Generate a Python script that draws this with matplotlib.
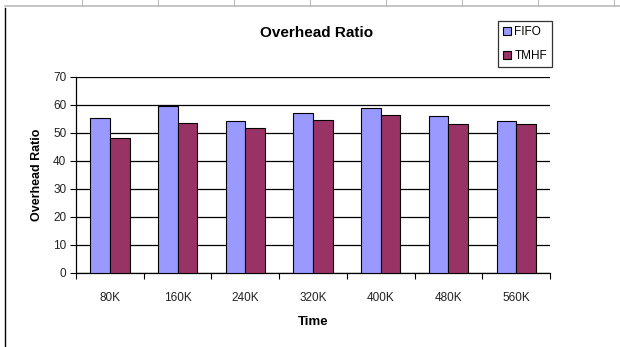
import numpy as np
import matplotlib.pyplot as plt
from matplotlib.lines import Line2D

plt.rcParams['font.family'] = ['Liberation Sans', 'DejaVu Sans']

times = ['80K', '160K', '240K', '320K', '400K', '480K', '560K']
fifo = [55.4, 59.8, 54.4, 57.3, 59.0, 55.9, 54.4]
tmhf = [48.2, 53.6, 51.9, 54.5, 56.6, 53.1, 53.1]

fig = plt.figure(figsize=(6.2, 3.47), dpi=100)
ax = fig.add_axes([0.1226, 0.2133, 0.7645, 0.5648])

x = np.arange(len(times))
w = 0.29
ax.bar(x - w / 2, fifo, w, color='#9999FF', edgecolor='black', linewidth=0.8,
       label='FIFO', zorder=3)
ax.bar(x + w / 2, tmhf, w, color='#993366', edgecolor='black', linewidth=0.8,
       label='TMHF', zorder=3)

ax.set_xlim(-0.5, len(times) - 0.5)
ax.set_ylim(0, 70)
ax.set_yticks(np.arange(0, 80, 10))
ax.set_xticks(x)
ax.set_xticklabels(times)
ax.set_xticks(np.arange(-0.5, len(times)), minor=True)
ax.tick_params(axis='x', which='major', length=0, pad=14, labelsize=8.5,
               labelcolor='#222222')
ax.tick_params(axis='x', which='minor', length=4, direction='out', width=0.8)
ax.tick_params(axis='y', length=4, direction='out', width=0.8, labelsize=8.5,
               labelcolor='#222222', pad=3)

ax.grid(axis='y', color='black', linewidth=0.9, zorder=0)
for s in ['top', 'right']:
    ax.spines[s].set_visible(False)
for s in ['left', 'bottom']:
    ax.spines[s].set_linewidth(0.9)

ax.set_xlabel('Time', fontsize=9.5, fontweight='bold', labelpad=8)
ax.set_ylabel('Overhead Ratio', fontsize=9, fontweight='bold', labelpad=7)
fig.text(0.51, 0.905, 'Overhead Ratio', ha='center', va='center',
         fontsize=11, fontweight='bold')

leg = fig.legend(loc='upper left', bbox_to_anchor=(0.803, 0.94),
                 fontsize=8.5, frameon=True, fancybox=False, edgecolor='black',
                 handlelength=0.7, handleheight=0.7, handletextpad=0.25,
                 borderpad=0.45, labelspacing=1.0, borderaxespad=0)
leg.get_frame().set_linewidth(0.9)

# sheet border lines around the chart
fig.add_artist(Line2D([0.008, 0.008], [0.0, 0.978], color='black', linewidth=1))
fig.add_artist(Line2D([0.008, 1.0], [0.982, 0.982], color='#BBBBBB', linewidth=1.2))
for xp in [82, 158, 234, 310, 386, 462, 538, 614]:
    fig.add_artist(Line2D([xp / 620, xp / 620], [0.982, 1.0], color='#BBBBBB',
                          linewidth=0.8))

fig.savefig('out.png', dpi=100)
